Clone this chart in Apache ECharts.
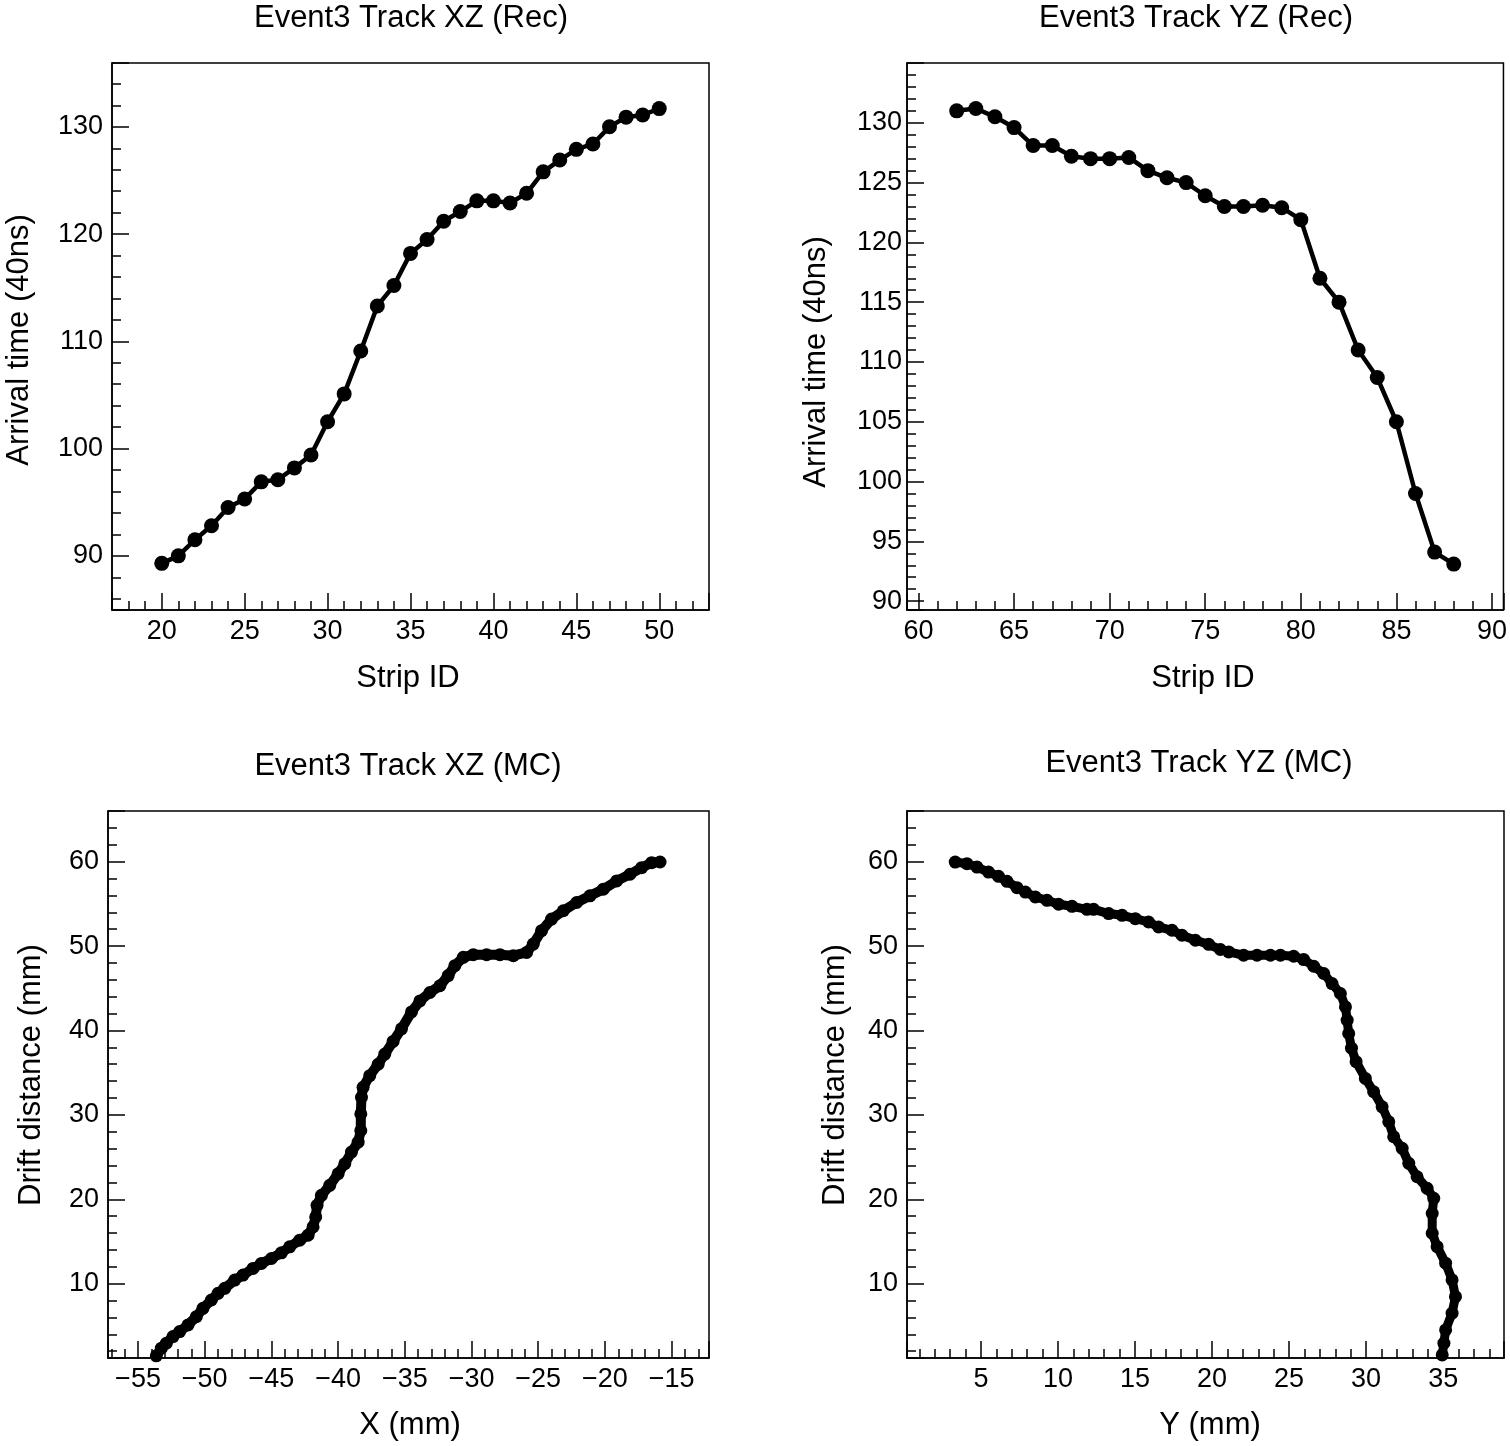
<!DOCTYPE html>
<html>
<head>
<meta charset="utf-8">
<title>Event3 tracks</title>
<script src="https://cdn.jsdelivr.net/npm/echarts@6/dist/echarts.min.js"></script>
<style>
  html, body { margin: 0; padding: 0; background: #fff; }
  #main { width: 1510px; height: 1446px; }
</style>
</head>
<body>
<div id="main"></div>
<script>
// reconstructed track, XZ view (strip id vs arrival time)
const recXZStrip = [20, 21, 22, 23, 24, 25, 26, 27, 28, 29, 30, 31, 32, 33, 34, 35, 36, 37, 38, 39, 40, 41, 42, 43, 44, 45, 46, 47, 48, 49, 50];
const recXZTime = [89.3, 90.0, 91.5, 92.8, 94.5, 95.3, 96.9, 97.1, 98.2, 99.4, 102.5, 105.1, 109.1, 113.3, 115.2, 118.2, 119.5, 121.2, 122.1, 123.1, 123.1, 122.9, 123.8, 125.8, 126.9, 127.9, 128.4, 130.0, 130.9, 131.1, 131.7];

// reconstructed track, YZ view
const recYZStrip = [62, 63, 64, 65, 66, 67, 68, 69, 70, 71, 72, 73, 74, 75, 76, 77, 78, 79, 80, 81, 82, 83, 84, 85, 86, 87, 88];
const recYZTime = [131.0, 131.2, 130.5, 129.6, 128.1, 128.1, 127.2, 127.0, 127.0, 127.1, 126.0, 125.4, 125.0, 123.9, 123.0, 123.0, 123.1, 122.9, 121.9, 117.0, 115.0, 111.0, 108.7, 105.0, 99.0, 94.1, 93.1];

// MC truth, XZ view (mm)
const mcX = [-53.63, -53.25, -52.88, -52.38, -51.88, -51.25, -50.63, -50.13, -49.5, -49.0, -48.5, -47.75, -47.13, -46.38, -45.75, -45.0, -44.25, -43.63, -42.88, -42.25, -41.88, -41.68, -41.58, -41.25, -40.63, -40.0, -39.5, -39.0, -38.5, -38.3, -38.3, -38.25, -38.13, -37.63, -37.0, -36.5, -35.88, -35.25, -34.5, -33.87, -33.12, -32.37, -31.75, -31.25, -30.62, -29.87, -28.87, -27.87, -26.87, -25.87, -25.37, -24.75, -24.0, -23.12, -22.12, -21.12, -20.12, -19.12, -18.12, -17.25, -16.5, -15.87];
const mcXZdrift = [1.46, 2.36, 2.95, 3.74, 4.33, 5.12, 6.1, 7.09, 8.07, 8.86, 9.45, 10.43, 11.02, 11.81, 12.4, 12.99, 13.66, 14.37, 15.16, 15.75, 16.73, 17.91, 19.29, 20.47, 21.65, 23.03, 24.21, 25.59, 26.77, 28.15, 30.12, 32.09, 33.27, 34.65, 36.0, 37.2, 38.7, 40.2, 42.2, 43.5, 44.5, 45.3, 46.5, 47.68, 48.66, 48.98, 48.98, 48.98, 48.86, 49.25, 50.24, 51.82, 53.2, 54.18, 55.16, 55.95, 56.74, 57.72, 58.51, 59.29, 59.88, 59.96];

// MC truth, YZ view (mm)
const mcY = [3.33, 4.09, 4.74, 5.49, 6.14, 6.69, 7.34, 7.88, 8.53, 9.29, 10.04, 10.91, 11.88, 12.31, 13.29, 14.16, 15.02, 15.88, 16.53, 17.40, 18.05, 18.92, 19.78, 20.54, 21.08, 22.05, 22.92, 23.79, 24.44, 25.30, 25.95, 26.60, 27.25, 27.79, 28.33, 28.66, 28.77, 28.87, 29.05, 29.35, 29.95, 30.49, 31.04, 31.47, 31.79, 32.34, 32.77, 33.31, 33.96, 34.39, 34.29, 34.29, 34.61, 35.16, 35.58, 35.80, 35.58, 35.16, 35.05, 34.94];
const mcYZdrift = [59.95, 59.76, 59.36, 58.77, 58.26, 57.67, 56.92, 56.4, 55.81, 55.42, 54.95, 54.71, 54.35, 54.35, 53.85, 53.64, 53.25, 52.85, 52.26, 51.87, 51.28, 50.69, 50.21, 49.59, 49.30, 48.91, 48.91, 48.91, 48.91, 48.79, 48.40, 47.61, 46.75, 45.56, 44.38, 42.79, 41.22, 39.64, 37.9, 36.3, 34.32, 32.74, 30.96, 29.19, 27.41, 26.04, 24.26, 22.67, 21.30, 20.12, 18.34, 15.98, 14.39, 12.43, 10.45, 8.47, 6.51, 4.53, 2.96, 1.57];

const FONT = '"Liberation Sans", Arial, Helvetica, sans-serif';

function zip(xs, ys) {
  return xs.map((x, i) => [x, ys[i]]);
}

function axis(gridIndex, min, max, splitNumber, margin) {
  return {
    type: 'value',
    gridIndex: gridIndex,
    min: min,
    max: max,
    splitNumber: splitNumber,
    axisLine: { show: true, onZero: false, lineStyle: { color: '#000', width: 1.5 } },
    axisTick: { show: true, inside: true, length: 17, lineStyle: { color: '#000', width: 1.5 } },
    minorTick: { show: true, splitNumber: 5, length: 9, lineStyle: { color: '#000', width: 1.5 } },
    splitLine: { show: false },
    axisLabel: {
      color: '#000', fontSize: 27, fontFamily: FONT, margin: margin,
      showMinLabel: false, showMaxLabel: false,
      formatter: v => String(v).replace('-', '\u2212')
    }
  };
}

function text(str, x, y, rotate) {
  return {
    type: 'text',
    x: x, y: y,
    rotation: rotate ? Math.PI / 2 : 0,
    style: { text: str, fill: '#000', fontSize: 31, fontFamily: FONT, align: 'center', verticalAlign: 'middle' }
  };
}

function track(xIdx, data, lineWidth, symbolSize) {
  return {
    type: 'line',
    xAxisIndex: xIdx,
    yAxisIndex: xIdx,
    data: data,
    symbol: 'circle',
    symbolSize: symbolSize,
    showSymbol: true,
    lineStyle: { color: '#000', width: lineWidth },
    itemStyle: { color: '#000' },
    clip: true
  };
}

const frame = { show: true, borderColor: '#000', borderWidth: 1.5, backgroundColor: 'transparent' };

const chart = echarts.init(document.getElementById('main'));
chart.setOption({
  animation: false,
  backgroundColor: '#fff',
  grid: [
    Object.assign({ left: 112, top: 63, width: 597, height: 547 }, frame),
    Object.assign({ left: 907, top: 63, width: 597, height: 547 }, frame),
    Object.assign({ left: 108, top: 811, width: 601, height: 547 }, frame),
    Object.assign({ left: 907, top: 811, width: 597, height: 547 }, frame)
  ],
  xAxis: [
    axis(0, 17, 53, 7, 8),
    axis(1, 59.4, 90.6, 6, 8),
    axis(2, -57.25, -12.2, 9, 8),
    axis(3, 0.2, 38.95, 8, 8)
  ],
  yAxis: [
    axis(0, 84.95, 135.95, 5, 9),
    axis(1, 89.26, 135.0, 9, 5),
    axis(2, 1.2, 66, 6, 9),
    axis(3, 1.2, 66, 6, 9)
  ],
  graphic: [
    text('Event3 Track XZ (Rec)', 411, 18),
    text('Event3 Track YZ (Rec)', 1196, 18),
    text('Event3 Track XZ (MC)', 408, 766),
    text('Event3 Track YZ (MC)', 1199, 763),
    text('Strip ID', 408, 678),
    text('Strip ID', 1203, 678),
    text('X (mm)', 410, 1425),
    text('Y (mm)', 1210, 1425),
    text('Arrival time (40ns)', 19, 340, true),
    text('Arrival time (40ns)', 816, 362, true),
    text('Drift distance (mm)', 31, 1075, true),
    text('Drift distance (mm)', 835, 1075, true)
  ],
  series: [
    track(0, zip(recXZStrip, recXZTime), 4.5, 15),
    track(1, zip(recYZStrip, recYZTime), 4.5, 15),
    track(2, zip(mcX, mcXZdrift), 10, 13),
    track(3, zip(mcY, mcYZdrift), 9, 13)
  ]
});
</script>
</body>
</html>
